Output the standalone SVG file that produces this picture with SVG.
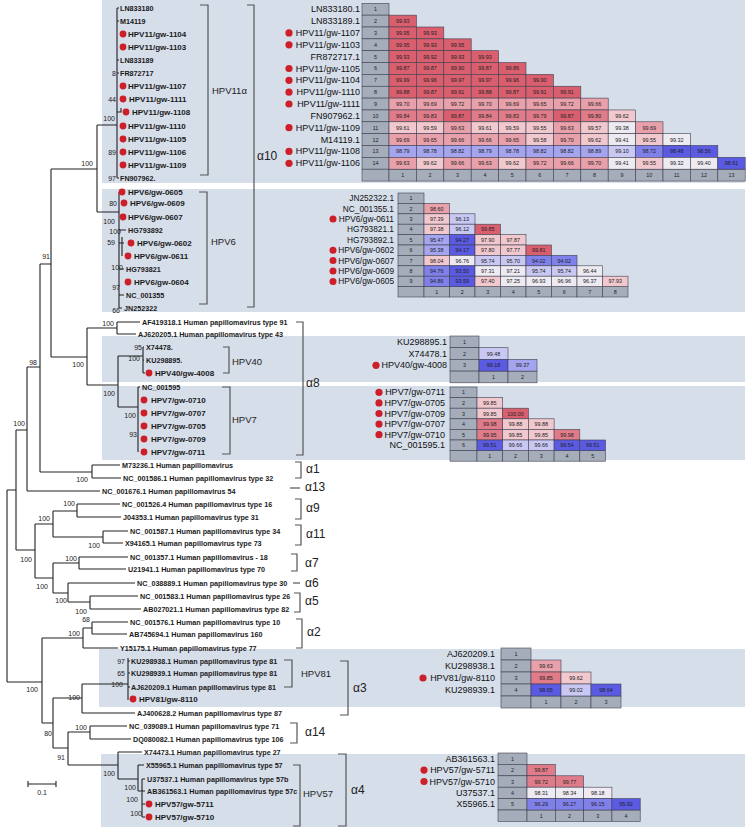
<svg xmlns="http://www.w3.org/2000/svg" width="750" height="831" viewBox="0 0 750 831">
<style>
text{font-family:"Liberation Sans",Arial,sans-serif;dominant-baseline:central}
.pn{fill:#d6deea}
.e{fill:none;stroke:#222;stroke-width:1.1}
.br{fill:none;stroke:#555;stroke-width:1.2}
.acc{font-size:7.2px;font-weight:bold;fill:#1a1a1a}
.smp{font-size:8px;font-weight:bold;fill:#1a1a1a}
.bs{font-size:7px;fill:#222;text-anchor:end}
.cl{font-size:9.5px;fill:#222}
.al{font-size:12px;fill:#222}
.ml{font-size:9px;fill:#111;text-anchor:end}
.ml2{font-size:8.3px}
.dot{fill:#cc1f2a}
.m rect{stroke:#404050;stroke-width:0.6}
.v{font-size:5.4px;fill:#222;text-anchor:middle}
.ix{fill:#a6adba}
.r4{fill:#d95f6f}.r3{fill:#e07c89}.r2{fill:#e8a0aa}.r1{fill:#f0c8ce}.w{fill:#eeeaf1}
.b1{fill:#c8c8f3}.b2{fill:#a4a4ef}.b3{fill:#8080ea}.b4{fill:#5a5ae2}
</style>
<rect width="750" height="831" fill="#fff"/>
<g id="panels">
<rect class="pn" x="102" y="0" width="643" height="183"/>
<rect class="pn" x="102" y="189" width="643" height="123"/>
<rect class="pn" x="102" y="336" width="643" height="46"/>
<rect class="pn" x="102" y="386" width="643" height="74"/>
<rect class="pn" x="99" y="649" width="646" height="58"/>
<rect class="pn" x="101" y="754" width="644" height="73"/>
</g>
<g id="connectors">
<path class="e" d="M7,490V682M7,490H16M7,682H42
M16,430V550M16,430H27M16,550H35
M27,367V491M27,367H40M27,491H100
M40,264V472M40,264H51M40,472H92
M92,465V478M92,465H120M92,478H121
M51,169V357M51,169H97M51,357H87
M97,125V212M97,125H117M97,212H119
M117,8V178M117,8H119M117,21H119M117,60H119M117,73H119M117,178H119M117,112H121V108
M119,192V308M119,230H126M119,243H124M122,237V256M119,269H124M119,295H124M119,308H122
M87,328V385M87,328H117M87,385H118
M117,322V334M117,322H140M117,334H136
M118,356V407M118,356H143M118,407H138
M143,347V373M143,347H144M143,360H144M143,373H145
M138,387V452M138,387H140
M35,524V578M35,524H53M35,578H53
M53,511V537M53,511H77M53,537H103
M77,504V517M77,504H120M77,517H121
M103,531V543M103,531H128M103,543H123
M53,563V593M53,563H79M53,593H68
M79,557V569M79,557H128M79,569H126
M68,583V602M68,583H135M68,602H90
M90,596V609M90,596H138M90,609H141
M42,638V723M42,638H83M42,723H53
M83,628V648M83,628H92M83,648H118
M92,622V634M92,622H128M92,634H127
M53,698V748M53,698H82M53,748H68
M82,684V713M82,684H128M82,713H135
M128,658V700M128,661H130M128,673H130M128,687H130
M68,732V765M68,732H90M68,765H118
M90,726V739M90,726H127M90,739H131
M118,752V779M118,752H142M118,779H138
M138,765V791M138,765H144M138,791H142
M142,779V817M142,779H145M142,791H145M142,804H145M142,817H145"/>
<path class="e" d="M28,784H56M28,781V787M56,781V787"/>
</g>
<g id="bootstrap">
<text class="bs" x="116" y="73">8</text><text class="bs" x="116" y="99">44</text><text class="bs" x="115" y="118">100</text><text class="bs" x="116" y="152">89</text><text class="bs" x="116" y="178">97</text>
<text class="bs" x="93" y="163">100</text><text class="bs" x="50" y="256">91</text>
<text class="bs" x="117" y="203">80</text><text class="bs" x="115" y="221">100</text><text class="bs" x="121" y="231">100</text><text class="bs" x="115" y="242">59</text><text class="bs" x="123" y="267">100</text><text class="bs" x="120" y="287">97</text><text class="bs" x="120" y="310">66</text>
<text class="bs" x="114" y="323">100</text><text class="bs" x="37" y="362">98</text><text class="bs" x="84" y="364">100</text><text class="bs" x="142" y="347">95</text><text class="bs" x="140" y="358">100</text><text class="bs" x="115" y="393">100</text><text class="bs" x="136" y="415">100</text><text class="bs" x="137" y="434">93</text><text class="bs" x="25" y="423">100</text>
<text class="bs" x="88" y="479">100</text><text class="bs" x="75" y="503">100</text><text class="bs" x="50" y="518">100</text><text class="bs" x="100" y="545">100</text><text class="bs" x="32" y="559">100</text><text class="bs" x="77" y="558">100</text><text class="bs" x="48" y="586">100</text><text class="bs" x="67" y="600">100</text><text class="bs" x="87" y="611">100</text>
<text class="bs" x="90" y="619">68</text><text class="bs" x="80" y="633">100</text><text class="bs" x="125" y="661">97</text><text class="bs" x="125" y="673">65</text><text class="bs" x="123" y="684">100</text><text class="bs" x="38" y="689">100</text><text class="bs" x="80" y="697">100</text>
<text class="bs" x="87" y="727">100</text><text class="bs" x="52" y="733">80</text><text class="bs" x="65" y="757">91</text><text class="bs" x="115" y="773">100</text><text class="bs" x="136" y="787">100</text><text class="bs" x="138" y="799">100</text><text class="bs" x="142" y="813">100</text>
<text class="bs" x="42" y="792" style="text-anchor:middle">0.1</text>
</g>
<g id="tips">
<g id="t1"><text class="acc" x="120" y="8">LN833180</text></g>
<g id="t2"><text class="acc" x="120" y="21">M14119</text></g>
<g id="t3"><circle class="dot" cx="123" cy="34" r="3.4"/><text class="smp" x="128" y="34">HPV11/gw-1104</text></g>
<g id="t4"><circle class="dot" cx="123" cy="47" r="3.4"/><text class="smp" x="128" y="47">HPV11/gw-1103</text></g>
<g id="t5"><text class="acc" x="120" y="60">LN833189</text></g>
<g id="t6"><text class="acc" x="120" y="73">FR872717</text></g>
<g id="t7"><circle class="dot" cx="123" cy="86" r="3.4"/><text class="smp" x="128" y="86">HPV11/gw-1107</text></g>
<g id="t8"><circle class="dot" cx="123" cy="99" r="3.4"/><text class="smp" x="129" y="99">HPV11/gw-1111</text></g>
<g id="t9"><circle class="dot" cx="126" cy="112" r="3.4"/><text class="smp" x="132" y="112">HPV11/gw-1108</text></g>
<g id="t10"><circle class="dot" cx="123" cy="126" r="3.4"/><text class="smp" x="128" y="126">HPV11/gw-1110</text></g>
<g id="t11"><circle class="dot" cx="123" cy="139" r="3.4"/><text class="smp" x="128" y="139">HPV11/gw-1105</text></g>
<g id="t12"><circle class="dot" cx="123" cy="152" r="3.4"/><text class="smp" x="128" y="152">HPV11/gw-1106</text></g>
<g id="t13"><circle class="dot" cx="123" cy="165" r="3.4"/><text class="smp" x="128" y="165">HPV11/gw-1109</text></g>
<g id="t14"><text class="acc" x="120" y="178">FN907962.</text></g>
<g id="t15"><circle class="dot" cx="122" cy="192" r="3.4"/><text class="smp" x="128" y="192">HPV6/gw-0605</text></g>
<g id="t16"><circle class="dot" cx="124" cy="203" r="3.4"/><text class="smp" x="130" y="203">HPV6/gw-0609</text></g>
<g id="t17"><circle class="dot" cx="123" cy="217" r="3.4"/><text class="smp" x="128" y="217">HPV6/gw-0607</text></g>
<g id="t18"><text class="acc" x="128" y="230">HG793892</text></g>
<g id="t19"><circle class="dot" cx="131" cy="243" r="3.4"/><text class="smp" x="137" y="243">HPV6/gw-0602</text></g>
<g id="t20"><circle class="dot" cx="128" cy="256" r="3.4"/><text class="smp" x="134" y="256">HPV6/gw-0611</text></g>
<g id="t21"><text class="acc" x="126" y="269">HG793821</text></g>
<g id="t22"><circle class="dot" cx="128" cy="282" r="3.4"/><text class="smp" x="134" y="282">HPV6/gw-0604</text></g>
<g id="t23"><text class="acc" x="126" y="295">NC_001355</text></g>
<g id="t24"><text class="acc" x="124" y="308">JN252322</text></g>
<g id="t25"><text class="acc" x="142" y="322">AF419318.1 Human papillomavirus type 91</text></g>
<g id="t26"><text class="acc" x="138" y="334">AJ620205.1 Human papillomavirus type 43</text></g>
<g id="t27"><text class="acc" x="146" y="347">X74478.</text></g>
<g id="t28"><text class="acc" x="146" y="360">KU298895.</text></g>
<g id="t29"><circle class="dot" cx="149" cy="373" r="3.4"/><text class="smp" x="155" y="373">HPV40/gw-4008</text></g>
<g id="t30"><text class="acc" x="142" y="387">NC_001595</text></g>
<g id="t31"><circle class="dot" cx="144" cy="400" r="3.4"/><text class="smp" x="151" y="400">HPV7/gw-0710</text></g>
<g id="t32"><circle class="dot" cx="144" cy="413" r="3.4"/><text class="smp" x="151" y="413">HPV7/gw-0707</text></g>
<g id="t33"><circle class="dot" cx="144" cy="426" r="3.4"/><text class="smp" x="151" y="426">HPV7/gw-0705</text></g>
<g id="t34"><circle class="dot" cx="144" cy="439" r="3.4"/><text class="smp" x="151" y="439">HPV7/gw-0709</text></g>
<g id="t35"><circle class="dot" cx="144" cy="452" r="3.4"/><text class="smp" x="151" y="452">HPV7/gw-0711</text></g>
<g id="t36"><text class="acc" x="122" y="465">M73236.1 Human papillomavirus</text></g>
<g id="t37"><text class="acc" x="123" y="478">NC_001586.1 Human papillomavirus type 32</text></g>
<g id="t38"><text class="acc" x="102" y="491">NC_001676.1 Human papillomavirus 54</text></g>
<g id="t39"><text class="acc" x="122" y="504">NC_001526.4 Human papillomavirus type 16</text></g>
<g id="t40"><text class="acc" x="123" y="517">J04353.1 Human papillomavirus type 31</text></g>
<g id="t41"><text class="acc" x="130" y="531">NC_001587.1 Human papillomavirus type 34</text></g>
<g id="t42"><text class="acc" x="125" y="543">X94165.1 Human papillomavirus type 73</text></g>
<g id="t43"><text class="acc" x="130" y="557">NC_001357.1 Human papillomavirus - 18</text></g>
<g id="t44"><text class="acc" x="128" y="569">U21941.1 Human papillomavirus type 70</text></g>
<g id="t45"><text class="acc" x="137" y="583">NC_038889.1 Human papillomavirus type 30</text></g>
<g id="t46"><text class="acc" x="140" y="596">NC_001583.1 Human papillomavirus type 26</text></g>
<g id="t47"><text class="acc" x="143" y="609">AB027021.1 Human papillomavirus type 82</text></g>
<g id="t48"><text class="acc" x="130" y="622">NC_001576.1 Human papillomavirus type 10</text></g>
<g id="t49"><text class="acc" x="129" y="634">AB745694.1 Human papillomavirus 160</text></g>
<g id="t50"><text class="acc" x="120" y="648">Y15175.1 Human papillomavirus type 77</text></g>
<g id="t51"><text class="acc" x="131" y="661">KU298938.1 Human papillomavirus type 81</text></g>
<g id="t52"><text class="acc" x="131" y="673">KU298939.1 Human papillomavirus type 81</text></g>
<g id="t53"><text class="acc" x="131" y="687">AJ620209.1 Human papillomavirus type 81</text></g>
<g id="t54"><circle class="dot" cx="133" cy="699" r="3.4"/><text class="smp" x="139" y="699">HPV81/gw-8110</text></g>
<g id="t55"><text class="acc" x="137" y="713">AJ400628.2 Human papillomavirus type 87</text></g>
<g id="t56"><text class="acc" x="129" y="726">NC_039089.1 Human papillomavirus type 71</text></g>
<g id="t57"><text class="acc" x="133" y="739">DQ080082.1 Human papillomavirus type 106</text></g>
<g id="t58"><text class="acc" x="144" y="752">X74473.1 Human papillomavirus type 27</text></g>
<g id="t59"><text class="acc" x="146" y="765">X55965.1 Human papillomavirus type 57</text></g>
<g id="t60"><text class="acc" x="147" y="779">U37537.1 Human papillomavirus type 57b</text></g>
<g id="t61"><text class="acc" x="147" y="791">AB361563.1 Human papillomavirus type 57c</text></g>
<g id="t62"><circle class="dot" cx="149" cy="804" r="3.4"/><text class="smp" x="155" y="804">HPV57/gw-5711</text></g>
<g id="t63"><circle class="dot" cx="149" cy="817" r="3.4"/><text class="smp" x="155" y="817">HPV57/gw-5710</text></g>
</g>
<g id="brackets">
<path class="br" d="M200,5H208V175H200"/><text class="cl" x="212" y="90">HPV11α</text>
<path class="br" d="M199,192H207V304H199"/><text class="cl" x="211" y="241">HPV6</text>
<path class="br" d="M247,5H254V307H247"/><text class="al" x="257" y="156">α10</text>
<path class="br" d="M223,347H229V373H223"/><text class="cl" x="232" y="361">HPV40</text>
<path class="br" d="M222,387H230V454H222"/><text class="cl" x="232" y="419">HPV7</text>
<path class="br" d="M296,322H303V455H296"/><text class="al" x="306" y="383">α8</text>
<path class="br" d="M295,462H301V478H295"/><text class="al" x="306" y="469">α1</text>
<path class="br" d="M290,488H300"/><text class="al" x="305" y="487">α13</text>
<path class="br" d="M295,499H301V519H295"/><text class="al" x="306" y="508">α9</text>
<path class="br" d="M295,525H301V545H295"/><text class="al" x="306" y="534">α11</text>
<path class="br" d="M291,554H297V571H291"/><text class="al" x="305" y="563">α7</text>
<path class="br" d="M293,583H300"/><text class="al" x="305" y="583">α6</text>
<path class="br" d="M294,593H300V612H294"/><text class="al" x="305" y="601">α5</text>
<path class="br" d="M296,619H302V648H296"/><text class="al" x="307" y="632">α2</text>
<path class="br" d="M284,660H292V687H284"/><text class="cl" x="301" y="673">HPV81</text>
<path class="br" d="M340,661H348V715H340"/><text class="al" x="353" y="688">α3</text>
<path class="br" d="M290,723H297V743H290"/><text class="al" x="305" y="732">α14</text>
<path class="br" d="M293,765H300V826H293"/><text class="cl" x="303" y="793">HPV57</text>
<path class="br" d="M338,754H346V826H338"/><text class="al" x="351" y="790">α4</text>
</g>
<g id="m1-labels">
<text class="ml" x="360" y="9.2">LN833180.1</text>
<text class="ml" x="360" y="21.1">LN833189.1</text>
<circle class="dot" cx="289" cy="32.9" r="3.6"/><text class="ml" x="360" y="32.9">HPV11/gw-1107</text>
<circle class="dot" cx="289" cy="44.8" r="3.6"/><text class="ml" x="360" y="44.8">HPV11/gw-1103</text>
<text class="ml" x="360" y="56.6">FR872717.1</text>
<circle class="dot" cx="289" cy="68.5" r="3.6"/><text class="ml" x="360" y="68.5">HPV11/gw-1105</text>
<circle class="dot" cx="289" cy="80.3" r="3.6"/><text class="ml" x="360" y="80.3">HPV11/gw-1104</text>
<circle class="dot" cx="289" cy="92.2" r="3.6"/><text class="ml" x="360" y="92.2">HPV11/gw-1110</text>
<circle class="dot" cx="289" cy="104" r="3.6"/><text class="ml" x="360" y="104">HPV11/gw-1111</text>
<text class="ml" x="360" y="115.9">FN907962.1</text>
<circle class="dot" cx="289" cy="127.7" r="3.6"/><text class="ml" x="360" y="127.7">HPV11/gw-1109</text>
<text class="ml" x="360" y="139.6">M14119.1</text>
<circle class="dot" cx="289" cy="151.4" r="3.6"/><text class="ml" x="360" y="151.4">HPV11/gw-1108</text>
<circle class="dot" cx="289" cy="163.3" r="3.6"/><text class="ml" x="360" y="163.3">HPV11/gw-1106</text>
</g>
<g id="m1" class="m" transform="translate(362,3.3)">
<rect class="ix" x="0" y="0" width="27" height="11.85"/><text class="v" x="13.5" y="5.9">1</text>
<rect class="ix" x="0" y="11.85" width="27" height="11.85"/><text class="v" x="13.5" y="17.8">2</text>
<rect class="ix" x="0" y="23.7" width="27" height="11.85"/><text class="v" x="13.5" y="29.6">3</text>
<rect class="ix" x="0" y="35.55" width="27" height="11.85"/><text class="v" x="13.5" y="41.5">4</text>
<rect class="ix" x="0" y="47.4" width="27" height="11.85"/><text class="v" x="13.5" y="53.3">5</text>
<rect class="ix" x="0" y="59.25" width="27" height="11.85"/><text class="v" x="13.5" y="65.2">6</text>
<rect class="ix" x="0" y="71.1" width="27" height="11.85"/><text class="v" x="13.5" y="77">7</text>
<rect class="ix" x="0" y="82.95" width="27" height="11.85"/><text class="v" x="13.5" y="88.9">8</text>
<rect class="ix" x="0" y="94.8" width="27" height="11.85"/><text class="v" x="13.5" y="100.7">9</text>
<rect class="ix" x="0" y="106.65" width="27" height="11.85"/><text class="v" x="13.5" y="112.6">10</text>
<rect class="ix" x="0" y="118.5" width="27" height="11.85"/><text class="v" x="13.5" y="124.4">11</text>
<rect class="ix" x="0" y="130.35" width="27" height="11.85"/><text class="v" x="13.5" y="136.3">12</text>
<rect class="ix" x="0" y="142.2" width="27" height="11.85"/><text class="v" x="13.5" y="148.1">13</text>
<rect class="ix" x="0" y="154.05" width="27" height="11.85"/><text class="v" x="13.5" y="160">14</text>
<rect class="ix" x="0" y="165.9" width="27" height="11.85"/>
<rect class="ix" x="27" y="165.9" width="27.4" height="11.85"/><text class="v" x="40.7" y="171.8">1</text>
<rect class="ix" x="54.4" y="165.9" width="27.4" height="11.85"/><text class="v" x="68.1" y="171.8">2</text>
<rect class="ix" x="81.8" y="165.9" width="27.4" height="11.85"/><text class="v" x="95.5" y="171.8">3</text>
<rect class="ix" x="109.2" y="165.9" width="27.4" height="11.85"/><text class="v" x="122.9" y="171.8">4</text>
<rect class="ix" x="136.6" y="165.9" width="27.4" height="11.85"/><text class="v" x="150.3" y="171.8">5</text>
<rect class="ix" x="164" y="165.9" width="27.4" height="11.85"/><text class="v" x="177.7" y="171.8">6</text>
<rect class="ix" x="191.4" y="165.9" width="27.4" height="11.85"/><text class="v" x="205.1" y="171.8">7</text>
<rect class="ix" x="218.8" y="165.9" width="27.4" height="11.85"/><text class="v" x="232.5" y="171.8">8</text>
<rect class="ix" x="246.2" y="165.9" width="27.4" height="11.85"/><text class="v" x="259.9" y="171.8">9</text>
<rect class="ix" x="273.6" y="165.9" width="27.4" height="11.85"/><text class="v" x="287.3" y="171.8">10</text>
<rect class="ix" x="301" y="165.9" width="27.4" height="11.85"/><text class="v" x="314.7" y="171.8">11</text>
<rect class="ix" x="328.4" y="165.9" width="27.4" height="11.85"/><text class="v" x="342.1" y="171.8">12</text>
<rect class="ix" x="355.8" y="165.9" width="27.4" height="11.85"/><text class="v" x="369.5" y="171.8">13</text>
<rect class="r4" x="27" y="11.85" width="27.4" height="11.85"/><text class="v" x="40.7" y="17.8">99.93</text>
<rect class="r4" x="27" y="23.7" width="27.4" height="11.85"/><text class="v" x="40.7" y="29.6">99.95</text>
<rect class="r4" x="54.4" y="23.7" width="27.4" height="11.85"/><text class="v" x="68.1" y="29.6">99.93</text>
<rect class="r4" x="27" y="35.55" width="27.4" height="11.85"/><text class="v" x="40.7" y="41.5">99.95</text>
<rect class="r4" x="54.4" y="35.55" width="27.4" height="11.85"/><text class="v" x="68.1" y="41.5">99.93</text>
<rect class="r4" x="81.8" y="35.55" width="27.4" height="11.85"/><text class="v" x="95.5" y="41.5">99.95</text>
<rect class="r4" x="27" y="47.4" width="27.4" height="11.85"/><text class="v" x="40.7" y="53.3">99.93</text>
<rect class="r4" x="54.4" y="47.4" width="27.4" height="11.85"/><text class="v" x="68.1" y="53.3">99.92</text>
<rect class="r4" x="81.8" y="47.4" width="27.4" height="11.85"/><text class="v" x="95.5" y="53.3">99.93</text>
<rect class="r4" x="109.2" y="47.4" width="27.4" height="11.85"/><text class="v" x="122.9" y="53.3">99.93</text>
<rect class="r4" x="27" y="59.25" width="27.4" height="11.85"/><text class="v" x="40.7" y="65.2">99.87</text>
<rect class="r4" x="54.4" y="59.25" width="27.4" height="11.85"/><text class="v" x="68.1" y="65.2">99.87</text>
<rect class="r4" x="81.8" y="59.25" width="27.4" height="11.85"/><text class="v" x="95.5" y="65.2">99.90</text>
<rect class="r4" x="109.2" y="59.25" width="27.4" height="11.85"/><text class="v" x="122.9" y="65.2">99.87</text>
<rect class="r4" x="136.6" y="59.25" width="27.4" height="11.85"/><text class="v" x="150.3" y="65.2">99.86</text>
<rect class="r4" x="27" y="71.1" width="27.4" height="11.85"/><text class="v" x="40.7" y="77">99.99</text>
<rect class="r4" x="54.4" y="71.1" width="27.4" height="11.85"/><text class="v" x="68.1" y="77">99.96</text>
<rect class="r4" x="81.8" y="71.1" width="27.4" height="11.85"/><text class="v" x="95.5" y="77">99.97</text>
<rect class="r4" x="109.2" y="71.1" width="27.4" height="11.85"/><text class="v" x="122.9" y="77">99.97</text>
<rect class="r4" x="136.6" y="71.1" width="27.4" height="11.85"/><text class="v" x="150.3" y="77">99.96</text>
<rect class="r4" x="164" y="71.1" width="27.4" height="11.85"/><text class="v" x="177.7" y="77">99.90</text>
<rect class="r4" x="27" y="82.95" width="27.4" height="11.85"/><text class="v" x="40.7" y="88.9">99.88</text>
<rect class="r4" x="54.4" y="82.95" width="27.4" height="11.85"/><text class="v" x="68.1" y="88.9">99.87</text>
<rect class="r4" x="81.8" y="82.95" width="27.4" height="11.85"/><text class="v" x="95.5" y="88.9">99.91</text>
<rect class="r4" x="109.2" y="82.95" width="27.4" height="11.85"/><text class="v" x="122.9" y="88.9">99.88</text>
<rect class="r4" x="136.6" y="82.95" width="27.4" height="11.85"/><text class="v" x="150.3" y="88.9">99.87</text>
<rect class="r4" x="164" y="82.95" width="27.4" height="11.85"/><text class="v" x="177.7" y="88.9">99.91</text>
<rect class="r4" x="191.4" y="82.95" width="27.4" height="11.85"/><text class="v" x="205.1" y="88.9">99.91</text>
<rect class="r2" x="27" y="94.8" width="27.4" height="11.85"/><text class="v" x="40.7" y="100.7">99.70</text>
<rect class="r2" x="54.4" y="94.8" width="27.4" height="11.85"/><text class="v" x="68.1" y="100.7">99.69</text>
<rect class="r2" x="81.8" y="94.8" width="27.4" height="11.85"/><text class="v" x="95.5" y="100.7">99.72</text>
<rect class="r2" x="109.2" y="94.8" width="27.4" height="11.85"/><text class="v" x="122.9" y="100.7">99.70</text>
<rect class="r2" x="136.6" y="94.8" width="27.4" height="11.85"/><text class="v" x="150.3" y="100.7">99.69</text>
<rect class="r2" x="164" y="94.8" width="27.4" height="11.85"/><text class="v" x="177.7" y="100.7">99.65</text>
<rect class="r2" x="191.4" y="94.8" width="27.4" height="11.85"/><text class="v" x="205.1" y="100.7">99.72</text>
<rect class="r2" x="218.8" y="94.8" width="27.4" height="11.85"/><text class="v" x="232.5" y="100.7">99.66</text>
<rect class="r3" x="27" y="106.65" width="27.4" height="11.85"/><text class="v" x="40.7" y="112.6">99.84</text>
<rect class="r3" x="54.4" y="106.65" width="27.4" height="11.85"/><text class="v" x="68.1" y="112.6">99.83</text>
<rect class="r4" x="81.8" y="106.65" width="27.4" height="11.85"/><text class="v" x="95.5" y="112.6">99.87</text>
<rect class="r3" x="109.2" y="106.65" width="27.4" height="11.85"/><text class="v" x="122.9" y="112.6">99.84</text>
<rect class="r3" x="136.6" y="106.65" width="27.4" height="11.85"/><text class="v" x="150.3" y="112.6">99.83</text>
<rect class="r3" x="164" y="106.65" width="27.4" height="11.85"/><text class="v" x="177.7" y="112.6">99.79</text>
<rect class="r4" x="191.4" y="106.65" width="27.4" height="11.85"/><text class="v" x="205.1" y="112.6">99.87</text>
<rect class="r3" x="218.8" y="106.65" width="27.4" height="11.85"/><text class="v" x="232.5" y="112.6">99.80</text>
<rect class="r1" x="246.2" y="106.65" width="27.4" height="11.85"/><text class="v" x="259.9" y="112.6">99.62</text>
<rect class="r1" x="27" y="118.5" width="27.4" height="11.85"/><text class="v" x="40.7" y="124.4">99.61</text>
<rect class="r1" x="54.4" y="118.5" width="27.4" height="11.85"/><text class="v" x="68.1" y="124.4">99.59</text>
<rect class="r2" x="81.8" y="118.5" width="27.4" height="11.85"/><text class="v" x="95.5" y="124.4">99.63</text>
<rect class="r1" x="109.2" y="118.5" width="27.4" height="11.85"/><text class="v" x="122.9" y="124.4">99.61</text>
<rect class="r1" x="136.6" y="118.5" width="27.4" height="11.85"/><text class="v" x="150.3" y="124.4">99.59</text>
<rect class="r1" x="164" y="118.5" width="27.4" height="11.85"/><text class="v" x="177.7" y="124.4">99.55</text>
<rect class="r2" x="191.4" y="118.5" width="27.4" height="11.85"/><text class="v" x="205.1" y="124.4">99.63</text>
<rect class="r1" x="218.8" y="118.5" width="27.4" height="11.85"/><text class="v" x="232.5" y="124.4">99.57</text>
<rect class="w" x="246.2" y="118.5" width="27.4" height="11.85"/><text class="v" x="259.9" y="124.4">99.38</text>
<rect class="r2" x="273.6" y="118.5" width="27.4" height="11.85"/><text class="v" x="287.3" y="124.4">99.69</text>
<rect class="r2" x="27" y="130.35" width="27.4" height="11.85"/><text class="v" x="40.7" y="136.3">99.69</text>
<rect class="r2" x="54.4" y="130.35" width="27.4" height="11.85"/><text class="v" x="68.1" y="136.3">99.65</text>
<rect class="r2" x="81.8" y="130.35" width="27.4" height="11.85"/><text class="v" x="95.5" y="136.3">99.66</text>
<rect class="r2" x="109.2" y="130.35" width="27.4" height="11.85"/><text class="v" x="122.9" y="136.3">99.66</text>
<rect class="r2" x="136.6" y="130.35" width="27.4" height="11.85"/><text class="v" x="150.3" y="136.3">99.65</text>
<rect class="r1" x="164" y="130.35" width="27.4" height="11.85"/><text class="v" x="177.7" y="136.3">99.58</text>
<rect class="r2" x="191.4" y="130.35" width="27.4" height="11.85"/><text class="v" x="205.1" y="136.3">99.70</text>
<rect class="r1" x="218.8" y="130.35" width="27.4" height="11.85"/><text class="v" x="232.5" y="136.3">99.62</text>
<rect class="w" x="246.2" y="130.35" width="27.4" height="11.85"/><text class="v" x="259.9" y="136.3">99.41</text>
<rect class="r1" x="273.6" y="130.35" width="27.4" height="11.85"/><text class="v" x="287.3" y="136.3">99.55</text>
<rect class="w" x="301" y="130.35" width="27.4" height="11.85"/><text class="v" x="314.7" y="136.3">99.32</text>
<rect class="b2" x="27" y="142.2" width="27.4" height="11.85"/><text class="v" x="40.7" y="148.1">98.79</text>
<rect class="b2" x="54.4" y="142.2" width="27.4" height="11.85"/><text class="v" x="68.1" y="148.1">98.78</text>
<rect class="b2" x="81.8" y="142.2" width="27.4" height="11.85"/><text class="v" x="95.5" y="148.1">98.82</text>
<rect class="b2" x="109.2" y="142.2" width="27.4" height="11.85"/><text class="v" x="122.9" y="148.1">98.79</text>
<rect class="b2" x="136.6" y="142.2" width="27.4" height="11.85"/><text class="v" x="150.3" y="148.1">98.78</text>
<rect class="b2" x="164" y="142.2" width="27.4" height="11.85"/><text class="v" x="177.7" y="148.1">98.82</text>
<rect class="b2" x="191.4" y="142.2" width="27.4" height="11.85"/><text class="v" x="205.1" y="148.1">98.82</text>
<rect class="b2" x="218.8" y="142.2" width="27.4" height="11.85"/><text class="v" x="232.5" y="148.1">98.89</text>
<rect class="b1" x="246.2" y="142.2" width="27.4" height="11.85"/><text class="v" x="259.9" y="148.1">99.10</text>
<rect class="b3" x="273.6" y="142.2" width="27.4" height="11.85"/><text class="v" x="287.3" y="148.1">98.72</text>
<rect class="b4" x="301" y="142.2" width="27.4" height="11.85"/><text class="v" x="314.7" y="148.1">98.48</text>
<rect class="b4" x="328.4" y="142.2" width="27.4" height="11.85"/><text class="v" x="342.1" y="148.1">98.56</text>
<rect class="r2" x="27" y="154.05" width="27.4" height="11.85"/><text class="v" x="40.7" y="160">99.63</text>
<rect class="r1" x="54.4" y="154.05" width="27.4" height="11.85"/><text class="v" x="68.1" y="160">99.62</text>
<rect class="r2" x="81.8" y="154.05" width="27.4" height="11.85"/><text class="v" x="95.5" y="160">99.66</text>
<rect class="r2" x="109.2" y="154.05" width="27.4" height="11.85"/><text class="v" x="122.9" y="160">99.63</text>
<rect class="r1" x="136.6" y="154.05" width="27.4" height="11.85"/><text class="v" x="150.3" y="160">99.62</text>
<rect class="r2" x="164" y="154.05" width="27.4" height="11.85"/><text class="v" x="177.7" y="160">99.72</text>
<rect class="r2" x="191.4" y="154.05" width="27.4" height="11.85"/><text class="v" x="205.1" y="160">99.66</text>
<rect class="r2" x="218.8" y="154.05" width="27.4" height="11.85"/><text class="v" x="232.5" y="160">99.70</text>
<rect class="w" x="246.2" y="154.05" width="27.4" height="11.85"/><text class="v" x="259.9" y="160">99.41</text>
<rect class="r1" x="273.6" y="154.05" width="27.4" height="11.85"/><text class="v" x="287.3" y="160">99.55</text>
<rect class="w" x="301" y="154.05" width="27.4" height="11.85"/><text class="v" x="314.7" y="160">99.32</text>
<rect class="w" x="328.4" y="154.05" width="27.4" height="11.85"/><text class="v" x="342.1" y="160">99.40</text>
<rect class="b4" x="355.8" y="154.05" width="27.4" height="11.85"/><text class="v" x="369.5" y="160">98.61</text>
</g>
<g id="m2-labels">
<text class="ml ml2" x="394" y="198.2">JN252322.1</text>
<text class="ml ml2" x="394" y="208.6">NC_001355.1</text>
<circle class="dot" cx="333" cy="219" r="3.5"/><text class="ml ml2" x="394" y="219">HPV6/gw-0611</text>
<text class="ml ml2" x="394" y="229.4">HG793821.1</text>
<text class="ml ml2" x="394" y="239.8">HG793892.1</text>
<circle class="dot" cx="333" cy="250.2" r="3.5"/><text class="ml ml2" x="394" y="250.2">HPV6/gw-0602</text>
<circle class="dot" cx="333" cy="260.6" r="3.5"/><text class="ml ml2" x="394" y="260.6">HPV6/gw-0607</text>
<circle class="dot" cx="333" cy="271" r="3.5"/><text class="ml ml2" x="394" y="271">HPV6/gw-0609</text>
<circle class="dot" cx="333" cy="281.4" r="3.5"/><text class="ml ml2" x="394" y="281.4">HPV6/gw-0605</text>
</g>
<g id="m2" class="m" transform="translate(398,193)">
<rect class="ix" x="0" y="0" width="26" height="10.4"/><text class="v" x="13" y="5.2">1</text>
<rect class="ix" x="0" y="10.4" width="26" height="10.4"/><text class="v" x="13" y="15.6">2</text>
<rect class="ix" x="0" y="20.8" width="26" height="10.4"/><text class="v" x="13" y="26">3</text>
<rect class="ix" x="0" y="31.2" width="26" height="10.4"/><text class="v" x="13" y="36.4">4</text>
<rect class="ix" x="0" y="41.6" width="26" height="10.4"/><text class="v" x="13" y="46.8">5</text>
<rect class="ix" x="0" y="52" width="26" height="10.4"/><text class="v" x="13" y="57.2">6</text>
<rect class="ix" x="0" y="62.4" width="26" height="10.4"/><text class="v" x="13" y="67.6">7</text>
<rect class="ix" x="0" y="72.8" width="26" height="10.4"/><text class="v" x="13" y="78">8</text>
<rect class="ix" x="0" y="83.2" width="26" height="10.4"/><text class="v" x="13" y="88.4">9</text>
<rect class="ix" x="0" y="93.6" width="26" height="10.4"/>
<rect class="ix" x="26" y="93.6" width="25.5" height="10.4"/><text class="v" x="38.75" y="98.8">1</text>
<rect class="ix" x="51.5" y="93.6" width="25.5" height="10.4"/><text class="v" x="64.25" y="98.8">2</text>
<rect class="ix" x="77" y="93.6" width="25.5" height="10.4"/><text class="v" x="89.75" y="98.8">3</text>
<rect class="ix" x="102.5" y="93.6" width="25.5" height="10.4"/><text class="v" x="115.25" y="98.8">4</text>
<rect class="ix" x="128" y="93.6" width="25.5" height="10.4"/><text class="v" x="140.75" y="98.8">5</text>
<rect class="ix" x="153.5" y="93.6" width="25.5" height="10.4"/><text class="v" x="166.25" y="98.8">6</text>
<rect class="ix" x="179" y="93.6" width="25.5" height="10.4"/><text class="v" x="191.75" y="98.8">7</text>
<rect class="ix" x="204.5" y="93.6" width="25.5" height="10.4"/><text class="v" x="217.25" y="98.8">8</text>
<rect class="r2" x="26" y="10.4" width="25.5" height="10.4"/><text class="v" x="38.75" y="15.6">98.60</text>
<rect class="r1" x="26" y="20.8" width="25.5" height="10.4"/><text class="v" x="38.75" y="26">97.39</text>
<rect class="b1" x="51.5" y="20.8" width="25.5" height="10.4"/><text class="v" x="64.25" y="26">96.13</text>
<rect class="r1" x="26" y="31.2" width="25.5" height="10.4"/><text class="v" x="38.75" y="36.4">97.38</text>
<rect class="b1" x="51.5" y="31.2" width="25.5" height="10.4"/><text class="v" x="64.25" y="36.4">96.12</text>
<rect class="r4" x="77" y="31.2" width="25.5" height="10.4"/><text class="v" x="89.75" y="36.4">99.85</text>
<rect class="b2" x="26" y="41.6" width="25.5" height="10.4"/><text class="v" x="38.75" y="46.8">95.47</text>
<rect class="b4" x="51.5" y="41.6" width="25.5" height="10.4"/><text class="v" x="64.25" y="46.8">94.27</text>
<rect class="r1" x="77" y="41.6" width="25.5" height="10.4"/><text class="v" x="89.75" y="46.8">97.90</text>
<rect class="r1" x="102.5" y="41.6" width="25.5" height="10.4"/><text class="v" x="115.25" y="46.8">97.87</text>
<rect class="b2" x="26" y="52" width="25.5" height="10.4"/><text class="v" x="38.75" y="57.2">95.38</text>
<rect class="b4" x="51.5" y="52" width="25.5" height="10.4"/><text class="v" x="64.25" y="57.2">94.17</text>
<rect class="r1" x="77" y="52" width="25.5" height="10.4"/><text class="v" x="89.75" y="57.2">97.80</text>
<rect class="r1" x="102.5" y="52" width="25.5" height="10.4"/><text class="v" x="115.25" y="57.2">97.77</text>
<rect class="r4" x="128" y="52" width="25.5" height="10.4"/><text class="v" x="140.75" y="57.2">99.81</text>
<rect class="r1" x="26" y="62.4" width="25.5" height="10.4"/><text class="v" x="38.75" y="67.6">98.04</text>
<rect class="w" x="51.5" y="62.4" width="25.5" height="10.4"/><text class="v" x="64.25" y="67.6">96.76</text>
<rect class="b1" x="77" y="62.4" width="25.5" height="10.4"/><text class="v" x="89.75" y="67.6">95.74</text>
<rect class="b1" x="102.5" y="62.4" width="25.5" height="10.4"/><text class="v" x="115.25" y="67.6">95.70</text>
<rect class="b3" x="128" y="62.4" width="25.5" height="10.4"/><text class="v" x="140.75" y="67.6">94.02</text>
<rect class="b3" x="153.5" y="62.4" width="25.5" height="10.4"/><text class="v" x="166.25" y="67.6">94.02</text>
<rect class="b3" x="26" y="72.8" width="25.5" height="10.4"/><text class="v" x="38.75" y="78">94.76</text>
<rect class="b4" x="51.5" y="72.8" width="25.5" height="10.4"/><text class="v" x="64.25" y="78">93.50</text>
<rect class="w" x="77" y="72.8" width="25.5" height="10.4"/><text class="v" x="89.75" y="78">97.31</text>
<rect class="w" x="102.5" y="72.8" width="25.5" height="10.4"/><text class="v" x="115.25" y="78">97.21</text>
<rect class="b1" x="128" y="72.8" width="25.5" height="10.4"/><text class="v" x="140.75" y="78">95.74</text>
<rect class="b1" x="153.5" y="72.8" width="25.5" height="10.4"/><text class="v" x="166.25" y="78">95.74</text>
<rect class="w" x="179" y="72.8" width="25.5" height="10.4"/><text class="v" x="191.75" y="78">96.44</text>
<rect class="b3" x="26" y="83.2" width="25.5" height="10.4"/><text class="v" x="38.75" y="88.4">94.86</text>
<rect class="b4" x="51.5" y="83.2" width="25.5" height="10.4"/><text class="v" x="64.25" y="88.4">93.59</text>
<rect class="r1" x="77" y="83.2" width="25.5" height="10.4"/><text class="v" x="89.75" y="88.4">97.40</text>
<rect class="w" x="102.5" y="83.2" width="25.5" height="10.4"/><text class="v" x="115.25" y="88.4">97.25</text>
<rect class="w" x="128" y="83.2" width="25.5" height="10.4"/><text class="v" x="140.75" y="88.4">96.93</text>
<rect class="w" x="153.5" y="83.2" width="25.5" height="10.4"/><text class="v" x="166.25" y="88.4">96.96</text>
<rect class="w" x="179" y="83.2" width="25.5" height="10.4"/><text class="v" x="191.75" y="88.4">96.37</text>
<rect class="r1" x="204.5" y="83.2" width="25.5" height="10.4"/><text class="v" x="217.25" y="88.4">97.93</text>
</g>
<g id="m3-labels">
<text class="ml" x="447" y="341.9">KU298895.1</text>
<text class="ml" x="447" y="353.6">X74478.1</text>
<circle class="dot" cx="376" cy="365.3" r="3.6"/><text class="ml" x="447" y="365.3">HPV40/gw-4008</text>
</g>
<g id="m3" class="m" transform="translate(450,336)">
<rect class="ix" x="0" y="0" width="29" height="11.7"/><text class="v" x="14.5" y="5.85">1</text>
<rect class="ix" x="0" y="11.7" width="29" height="11.7"/><text class="v" x="14.5" y="17.55">2</text>
<rect class="ix" x="0" y="23.4" width="29" height="11.7"/><text class="v" x="14.5" y="29.25">3</text>
<rect class="ix" x="0" y="35.1" width="29" height="11.7"/>
<rect class="ix" x="29" y="35.1" width="29" height="11.7"/><text class="v" x="43.5" y="40.95">1</text>
<rect class="ix" x="58" y="35.1" width="29" height="11.7"/><text class="v" x="72.5" y="40.95">2</text>
<rect class="b1" x="29" y="11.7" width="29" height="11.7"/><text class="v" x="43.5" y="17.55">99.48</text>
<rect class="b4" x="29" y="23.4" width="29" height="11.7"/><text class="v" x="43.5" y="29.25">99.18</text>
<rect class="b2" x="58" y="23.4" width="29" height="11.7"/><text class="v" x="72.5" y="29.25">99.37</text>
</g>
<g id="m4-labels">
<circle class="dot" cx="379" cy="392.3" r="3.6"/><text class="ml" x="445" y="392.3">HPV7/gw-0711</text>
<circle class="dot" cx="379" cy="402.9" r="3.6"/><text class="ml" x="445" y="402.9">HPV7/gw-0705</text>
<circle class="dot" cx="379" cy="413.5" r="3.6"/><text class="ml" x="445" y="413.5">HPV7/gw-0709</text>
<circle class="dot" cx="379" cy="424.1" r="3.6"/><text class="ml" x="445" y="424.1">HPV7/gw-0707</text>
<circle class="dot" cx="379" cy="434.7" r="3.6"/><text class="ml" x="445" y="434.7">HPV7/gw-0710</text>
<text class="ml" x="445" y="445.3">NC_001595.1</text>
</g>
<g id="m4" class="m" transform="translate(450,387)">
<rect class="ix" x="0" y="0" width="27" height="10.6"/><text class="v" x="13.5" y="5.3">1</text>
<rect class="ix" x="0" y="10.6" width="27" height="10.6"/><text class="v" x="13.5" y="15.9">2</text>
<rect class="ix" x="0" y="21.2" width="27" height="10.6"/><text class="v" x="13.5" y="26.5">3</text>
<rect class="ix" x="0" y="31.8" width="27" height="10.6"/><text class="v" x="13.5" y="37.1">4</text>
<rect class="ix" x="0" y="42.4" width="27" height="10.6"/><text class="v" x="13.5" y="47.7">5</text>
<rect class="ix" x="0" y="53" width="27" height="10.6"/><text class="v" x="13.5" y="58.3">6</text>
<rect class="ix" x="0" y="63.6" width="27" height="10.6"/>
<rect class="ix" x="27" y="63.6" width="25.7" height="10.6"/><text class="v" x="39.85" y="68.9">1</text>
<rect class="ix" x="52.7" y="63.6" width="25.7" height="10.6"/><text class="v" x="65.55" y="68.9">2</text>
<rect class="ix" x="78.4" y="63.6" width="25.7" height="10.6"/><text class="v" x="91.25" y="68.9">3</text>
<rect class="ix" x="104.1" y="63.6" width="25.7" height="10.6"/><text class="v" x="116.95" y="68.9">4</text>
<rect class="ix" x="129.8" y="63.6" width="25.7" height="10.6"/><text class="v" x="142.65" y="68.9">5</text>
<rect class="r1" x="27" y="10.6" width="25.7" height="10.6"/><text class="v" x="39.85" y="15.9">99.85</text>
<rect class="r1" x="27" y="21.2" width="25.7" height="10.6"/><text class="v" x="39.85" y="26.5">99.85</text>
<rect class="r4" x="52.7" y="21.2" width="25.7" height="10.6"/><text class="v" x="65.55" y="26.5">100.00</text>
<rect class="r3" x="27" y="31.8" width="25.7" height="10.6"/><text class="v" x="39.85" y="37.1">99.98</text>
<rect class="r1" x="52.7" y="31.8" width="25.7" height="10.6"/><text class="v" x="65.55" y="37.1">99.88</text>
<rect class="r1" x="78.4" y="31.8" width="25.7" height="10.6"/><text class="v" x="91.25" y="37.1">99.88</text>
<rect class="r3" x="27" y="42.4" width="25.7" height="10.6"/><text class="v" x="39.85" y="47.7">99.95</text>
<rect class="r1" x="52.7" y="42.4" width="25.7" height="10.6"/><text class="v" x="65.55" y="47.7">99.85</text>
<rect class="r1" x="78.4" y="42.4" width="25.7" height="10.6"/><text class="v" x="91.25" y="47.7">99.85</text>
<rect class="r3" x="104.1" y="42.4" width="25.7" height="10.6"/><text class="v" x="116.95" y="47.7">99.98</text>
<rect class="b4" x="27" y="53" width="25.7" height="10.6"/><text class="v" x="39.85" y="58.3">99.51</text>
<rect class="b1" x="52.7" y="53" width="25.7" height="10.6"/><text class="v" x="65.55" y="58.3">99.66</text>
<rect class="b1" x="78.4" y="53" width="25.7" height="10.6"/><text class="v" x="91.25" y="58.3">99.66</text>
<rect class="b4" x="104.1" y="53" width="25.7" height="10.6"/><text class="v" x="116.95" y="58.3">99.54</text>
<rect class="b4" x="129.8" y="53" width="25.7" height="10.6"/><text class="v" x="142.65" y="58.3">99.51</text>
</g>
<g id="m5-labels">
<text class="ml" x="495" y="654">AJ620209.1</text>
<text class="ml" x="495" y="666">KU298938.1</text>
<circle class="dot" cx="423" cy="678" r="3.6"/><text class="ml" x="495" y="678">HPV81/gw-8110</text>
<text class="ml" x="495" y="690">KU298939.1</text>
</g>
<g id="m5" class="m" transform="translate(501,648)">
<rect class="ix" x="0" y="0" width="30" height="12"/><text class="v" x="15" y="6">1</text>
<rect class="ix" x="0" y="12" width="30" height="12"/><text class="v" x="15" y="18">2</text>
<rect class="ix" x="0" y="24" width="30" height="12"/><text class="v" x="15" y="30">3</text>
<rect class="ix" x="0" y="36" width="30" height="12"/><text class="v" x="15" y="42">4</text>
<rect class="ix" x="0" y="48" width="30" height="12"/>
<rect class="ix" x="30" y="48" width="30" height="12"/><text class="v" x="45" y="54">1</text>
<rect class="ix" x="60" y="48" width="30" height="12"/><text class="v" x="75" y="54">2</text>
<rect class="ix" x="90" y="48" width="30" height="12"/><text class="v" x="105" y="54">3</text>
<rect class="r2" x="30" y="12" width="30" height="12"/><text class="v" x="45" y="18">99.63</text>
<rect class="r3" x="30" y="24" width="30" height="12"/><text class="v" x="45" y="30">99.85</text>
<rect class="r1" x="60" y="24" width="30" height="12"/><text class="v" x="75" y="30">99.62</text>
<rect class="b4" x="30" y="36" width="30" height="12"/><text class="v" x="45" y="42">98.65</text>
<rect class="b1" x="60" y="36" width="30" height="12"/><text class="v" x="75" y="42">99.02</text>
<rect class="b4" x="90" y="36" width="30" height="12"/><text class="v" x="105" y="42">98.64</text>
</g>
<g id="m6-labels">
<text class="ml" x="495" y="758.7">AB361563.1</text>
<circle class="dot" cx="424" cy="770.1" r="3.6"/><text class="ml" x="495" y="770.1">HPV57/gw-5711</text>
<circle class="dot" cx="424" cy="781.5" r="3.6"/><text class="ml" x="495" y="781.5">HPV57/gw-5710</text>
<text class="ml" x="495" y="792.9">U37537.1</text>
<text class="ml" x="495" y="804.3">X55965.1</text>
</g>
<g id="m6" class="m" transform="translate(498,753)">
<rect class="ix" x="0" y="0" width="29" height="11.4"/><text class="v" x="14.5" y="5.7">1</text>
<rect class="ix" x="0" y="11.4" width="29" height="11.4"/><text class="v" x="14.5" y="17.1">2</text>
<rect class="ix" x="0" y="22.8" width="29" height="11.4"/><text class="v" x="14.5" y="28.5">3</text>
<rect class="ix" x="0" y="34.2" width="29" height="11.4"/><text class="v" x="14.5" y="39.9">4</text>
<rect class="ix" x="0" y="45.6" width="29" height="11.4"/><text class="v" x="14.5" y="51.3">5</text>
<rect class="ix" x="0" y="57" width="29" height="11.4"/>
<rect class="ix" x="29" y="57" width="28.3" height="11.4"/><text class="v" x="43.15" y="62.7">1</text>
<rect class="ix" x="57.3" y="57" width="28.3" height="11.4"/><text class="v" x="71.45" y="62.7">2</text>
<rect class="ix" x="85.6" y="57" width="28.3" height="11.4"/><text class="v" x="99.75" y="62.7">3</text>
<rect class="ix" x="113.9" y="57" width="28.3" height="11.4"/><text class="v" x="128.05" y="62.7">4</text>
<rect class="r3" x="29" y="11.4" width="28.3" height="11.4"/><text class="v" x="43.15" y="17.1">99.87</text>
<rect class="r3" x="29" y="22.8" width="28.3" height="11.4"/><text class="v" x="43.15" y="28.5">99.72</text>
<rect class="r3" x="57.3" y="22.8" width="28.3" height="11.4"/><text class="v" x="71.45" y="28.5">99.77</text>
<rect class="w" x="29" y="34.2" width="28.3" height="11.4"/><text class="v" x="43.15" y="39.9">98.31</text>
<rect class="w" x="57.3" y="34.2" width="28.3" height="11.4"/><text class="v" x="71.45" y="39.9">98.34</text>
<rect class="w" x="85.6" y="34.2" width="28.3" height="11.4"/><text class="v" x="99.75" y="39.9">98.18</text>
<rect class="b3" x="29" y="45.6" width="28.3" height="11.4"/><text class="v" x="43.15" y="51.3">96.29</text>
<rect class="b3" x="57.3" y="45.6" width="28.3" height="11.4"/><text class="v" x="71.45" y="51.3">96.27</text>
<rect class="b3" x="85.6" y="45.6" width="28.3" height="11.4"/><text class="v" x="99.75" y="51.3">96.15</text>
<rect class="b4" x="113.9" y="45.6" width="28.3" height="11.4"/><text class="v" x="128.05" y="51.3">95.92</text>
</g>
</svg>
